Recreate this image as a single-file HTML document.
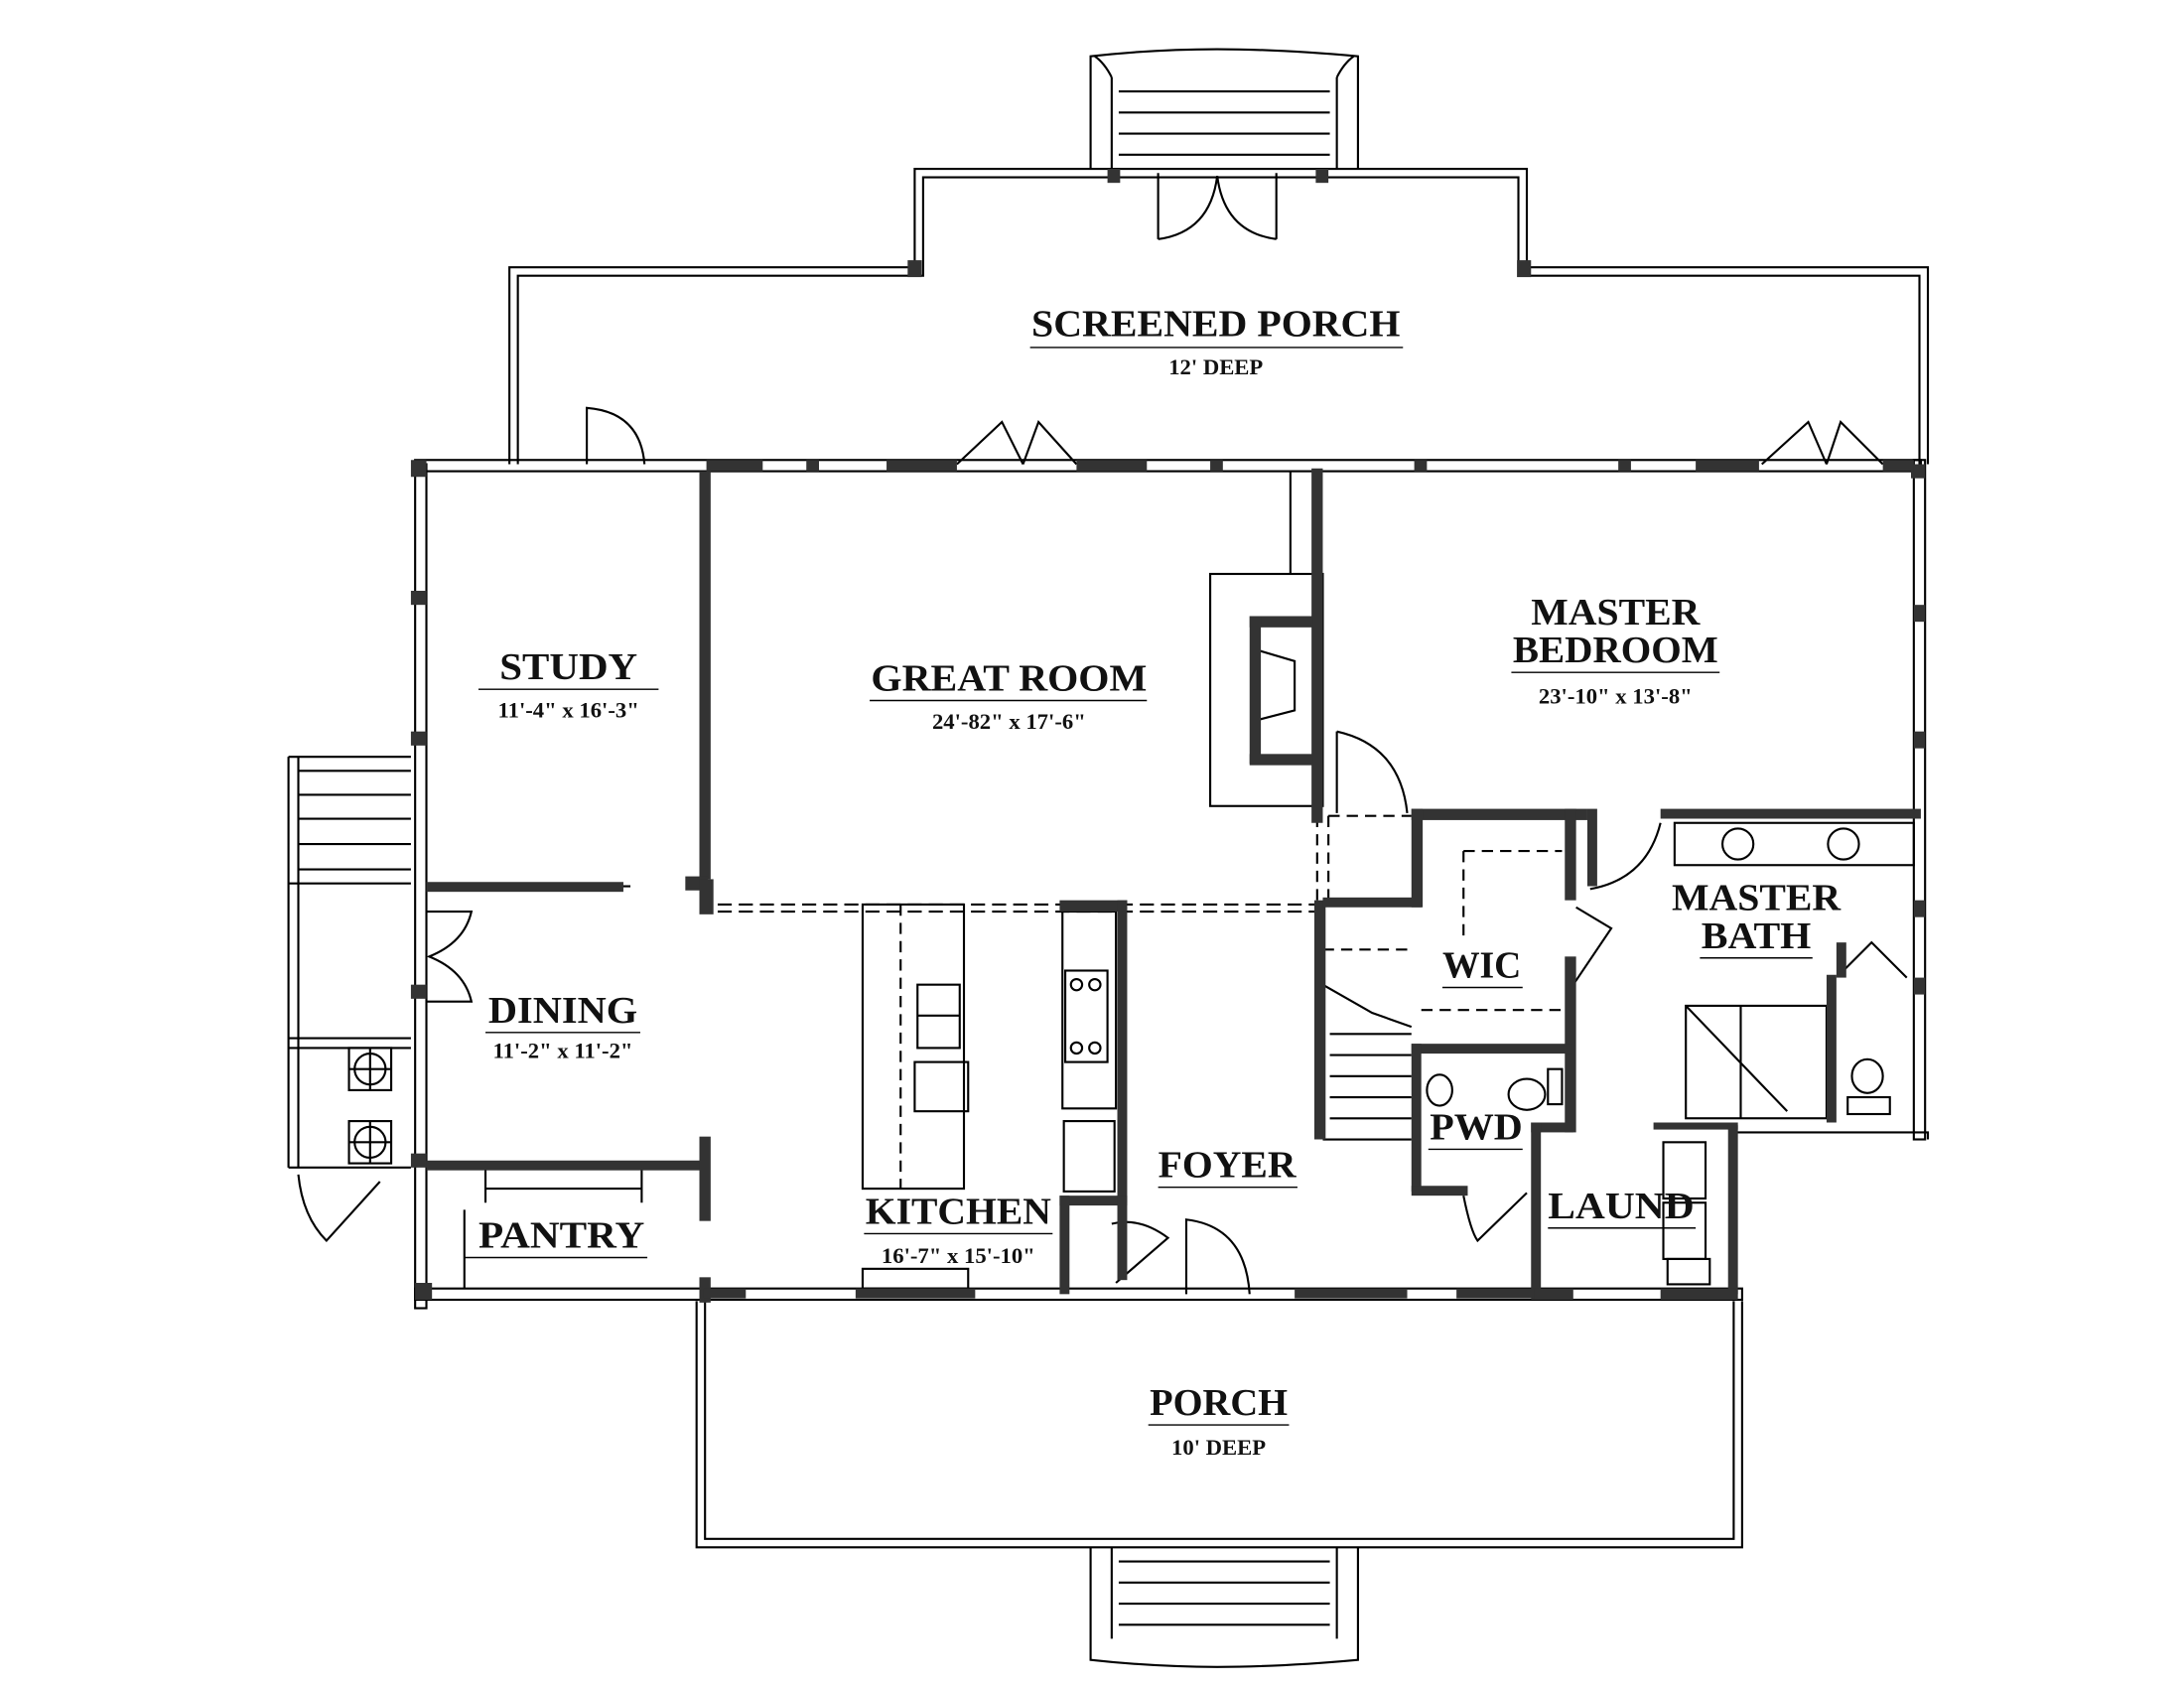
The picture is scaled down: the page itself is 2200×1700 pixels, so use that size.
<!DOCTYPE html>
<html><head><meta charset="utf-8"><style>
html,body{margin:0;padding:0;background:#fff;}
svg{display:block;}
text{font-family:"Liberation Serif",serif;fill:#111;}
.t{font-size:27px;font-weight:bold;}
.s{font-size:16px;font-weight:bold;}
</style></head><body>
<svg width="2200" height="1700" viewBox="0 0 1552 1200" preserveAspectRatio="none" xmlns="http://www.w3.org/2000/svg">
<g fill="none" stroke="#000" stroke-width="1.5">
<path d="M362 330 V190 H650 V120 H1085 V190 H1370 V330"/>
<path d="M368 330 V196 H656 V126 H1079 V196 H1364 V330"/>
<path d="M775 120 L775 40 Q820 35 865 35 Q910 35 965 40 L965 120"/>
<path d="M790 120 V55 M950 120 V55"/>
<path d="M790 55 Q785 45 778 40 M950 55 Q955 45 962 40"/>
<path d="M795 65 H945 M795 80 H945 M795 95 H945 M795 110 H945"/>
<path d="M823 123 V170 M907 123 V170 M823 170 Q860 165 865 125 M907 170 Q870 165 865 125"/>
<path d="M495 925 V1100 H1238 V925"/>
<path d="M501 925 V1094 H1232 V925"/>
<path d="M775 1100 V1180 Q820 1185 865 1185 Q910 1185 965 1180 V1100"/>
<path d="M790 1100 V1165 M950 1100 V1165"/>
<path d="M795 1110 H945 M795 1125 H945 M795 1140 H945 M795 1155 H945"/>
<path d="M205 538 H292 M205 538 V830 M212 538 V830 M212 548 H292 M212 565 H292 M212 582 H292 M212 600 H292 M212 618 H292"/>
<path d="M205 628 H292 M205 738 H292 M205 745 H292 M205 830 H292"/>
<path d="M212 835 Q215 865 232 882 L270 840"/>
<rect x="248" y="745" width="30" height="30"/><rect x="248" y="797" width="30" height="30"/>
<circle cx="263" cy="760" r="11"/><circle cx="263" cy="812" r="11"/>
<path d="M248 760 H278 M263 745 V775 M248 812 H278 M263 797 V827"/>
<rect x="295" y="330" width="8" height="600"/>
<rect x="295" y="916" width="943" height="8"/>
<rect x="295" y="327" width="1070" height="8"/>
<rect x="1360" y="327" width="8" height="483"/>
<path d="M1233 805 H1370 V810 M1232 810 V920"/>
<path d="M417 330 V290 Q455 293 458 330"/>
<path d="M680 330 L712 300 L727 330 M765 330 L738 300 L727 330"/>
<path d="M1252 330 L1285 300 L1298 330 M1338 330 L1308 300 L1298 330"/>
<path d="M303 648 H335 Q330 670 305 680 Q330 690 335 712 H303"/>
<path d="M510 643 H940 M510 648 H940" stroke-dasharray="10,5"/>
<path d="M936 580 V640 M944 580 V640" stroke-dasharray="8,5"/>
<path d="M944 580 H1003" stroke-dasharray="8,5"/>
<rect x="860" y="408" width="80" height="165"/>
<path d="M917 335 V408"/>
<path d="M893 462 L920 470 V505 L893 512"/>
<path d="M950 520 Q995 530 1000 578 M950 520 V578"/>
<rect x="613" y="643" width="72" height="202"/>
<rect x="652" y="700" width="30" height="45"/><path d="M652 722 H682"/>
<rect x="650" y="755" width="38" height="35"/>
<path d="M640 643 V845" stroke-dasharray="8,5"/>
<rect x="755" y="648" width="38" height="140"/>
<rect x="757" y="690" width="30" height="65"/>
<circle cx="765" cy="700" r="4"/><circle cx="778" cy="700" r="4"/><circle cx="765" cy="745" r="4"/><circle cx="778" cy="745" r="4"/>
<rect x="756" y="797" width="36" height="50"/>
<rect x="613" y="902" width="75" height="14"/>
<path d="M793 912 L830 880 Q810 865 790 870"/>
<path d="M843 920 V867 Q885 872 888 920"/>
<path d="M940 700 L975 720 L1003 730 M945 735 H1003 M945 750 H1003 M945 765 H1003 M945 780 H1003 M945 795 H1003 M940 810 H1003"/>
<path d="M940 675 H1005" stroke-dasharray="8,5"/>
<path d="M1010 718 H1112" stroke-dasharray="8,5"/>
<path d="M1040 605 H1110 M1040 605 V670" stroke-dasharray="8,5"/>
<path d="M1120 645 L1145 660 L1118 700"/>
<path d="M1130 632 Q1170 625 1180 585"/>
<rect x="1190" y="585" width="170" height="30"/>
<circle cx="1235" cy="600" r="11"/><circle cx="1310" cy="600" r="11"/>
<rect x="1198" y="715" width="100" height="80"/>
<path d="M1198 715 L1270 790 M1237 715 V795"/>
<ellipse cx="1327" cy="765" rx="11" ry="12"/><rect x="1313" y="780" width="30" height="12"/>
<path d="M1310 690 L1330 670 L1355 695"/>
<ellipse cx="1023" cy="775" rx="9" ry="11"/><ellipse cx="1085" cy="778" rx="13" ry="11"/>
<rect x="1100" y="760" width="10" height="25"/>
<path d="M1040 850 Q1045 875 1050 882 L1085 848"/>
<rect x="1182" y="812" width="30" height="40"/><rect x="1182" y="855" width="30" height="40"/>
<rect x="1185" y="895" width="30" height="18"/>
<path d="M345 830 V855 M456 830 V855 M345 845 H456"/>
<path d="M330 860 V916"/>
<path d="M303 630 H448"/>
</g>
<g fill="#333">
<rect x="497" y="335" width="8" height="290"/>
<rect x="487" y="623" width="16" height="10"/>
<rect x="497" y="625" width="10" height="25"/>
<rect x="303" y="627" width="140" height="7"/>
<rect x="303" y="825" width="200" height="7"/>
<rect x="497" y="808" width="8" height="60"/>
<rect x="497" y="908" width="8" height="18"/>
<rect x="292" y="327" width="11" height="12"/>
<rect x="295" y="912" width="12" height="12"/>
<rect x="932" y="333" width="8" height="252"/>
<rect x="888" y="438" width="45" height="8"/>
<rect x="888" y="438" width="8" height="105"/>
<rect x="888" y="536" width="45" height="8"/>
<rect x="753" y="640" width="48" height="8"/>
<rect x="794" y="640" width="7" height="215"/>
<rect x="753" y="850" width="48" height="7"/>
<rect x="753" y="850" width="7" height="70"/>
<rect x="794" y="850" width="7" height="60"/>
<rect x="934" y="640" width="8" height="170"/>
<rect x="1003" y="575" width="125" height="8"/>
<rect x="1003" y="575" width="8" height="70"/>
<rect x="940" y="638" width="70" height="7"/>
<rect x="1112" y="575" width="8" height="65"/>
<rect x="1112" y="680" width="8" height="125"/>
<rect x="1003" y="742" width="115" height="7"/>
<rect x="1003" y="742" width="7" height="105"/>
<rect x="1003" y="843" width="40" height="7"/>
<rect x="1088" y="798" width="30" height="7"/>
<rect x="1088" y="798" width="7" height="122"/>
<rect x="1128" y="575" width="7" height="55"/>
<rect x="1180" y="575" width="185" height="7"/>
<rect x="1298" y="693" width="7" height="105"/>
<rect x="1305" y="670" width="7" height="25"/>
<rect x="1175" y="798" width="60" height="5"/>
<rect x="1228" y="800" width="7" height="120"/>
<rect x="1180" y="916" width="55" height="8"/>
<rect x="1088" y="916" width="30" height="8"/>
<rect x="608" y="916" width="85" height="7"/>
<rect x="920" y="916" width="80" height="7"/>
<rect x="1035" y="916" width="55" height="7"/>
<rect x="500" y="916" width="30" height="7"/>
<rect x="1358" y="330" width="10" height="10"/>
<rect x="502" y="327" width="40" height="8"/>
<rect x="630" y="327" width="50" height="8"/>
<rect x="765" y="327" width="50" height="8"/>
<rect x="1205" y="327" width="45" height="8"/>
<rect x="1338" y="327" width="22" height="8"/>
<rect x="573" y="327" width="9" height="8"/><rect x="860" y="327" width="9" height="8"/><rect x="1005" y="327" width="9" height="8"/><rect x="1150" y="327" width="9" height="8"/>
<rect x="645" y="185" width="10" height="12"/><rect x="1078" y="185" width="10" height="12"/><rect x="787" y="120" width="9" height="10"/><rect x="935" y="120" width="9" height="10"/>
<rect x="1360" y="430" width="8" height="12"/><rect x="1360" y="520" width="8" height="12"/><rect x="1360" y="640" width="8" height="12"/><rect x="1360" y="695" width="8" height="12"/>
<rect x="292" y="420" width="11" height="10"/><rect x="292" y="520" width="11" height="10"/><rect x="292" y="700" width="11" height="10"/><rect x="292" y="820" width="11" height="10"/>
</g>
<g text-anchor="middle">
<text class="t" x="864" y="239" textLength="262" lengthAdjust="spacingAndGlyphs">SCREENED PORCH</text><path d="M732 247 H997" stroke="#000" stroke-width="1"/>
<text class="s" x="864" y="266">12' DEEP</text>
<text class="t" x="404" y="483" textLength="98" lengthAdjust="spacingAndGlyphs">STUDY</text><path d="M340 490 H468" stroke="#000"/>
<text class="s" x="404" y="510">11'-4" x 16'-3"</text>
<text class="t" x="717" y="491" textLength="196" lengthAdjust="spacingAndGlyphs">GREAT ROOM</text><path d="M618 498 H815" stroke="#000"/>
<text class="s" x="717" y="518">24'-82" x 17'-6"</text>
<text class="t" x="1148" y="444" textLength="120" lengthAdjust="spacingAndGlyphs">MASTER</text>
<text class="t" x="1148" y="471" textLength="146" lengthAdjust="spacingAndGlyphs">BEDROOM</text><path d="M1074 478 H1222" stroke="#000"/>
<text class="s" x="1148" y="500">23'-10" x 13'-8"</text>
<text class="t" x="400" y="727" textLength="106" lengthAdjust="spacingAndGlyphs">DINING</text><path d="M345 734 H455" stroke="#000"/>
<text class="s" x="400" y="752">11'-2" x 11'-2"</text>
<text class="t" x="1248" y="647" textLength="120" lengthAdjust="spacingAndGlyphs">MASTER</text>
<text class="t" x="1248" y="674" textLength="78" lengthAdjust="spacingAndGlyphs">BATH</text><path d="M1208 681 H1288" stroke="#000"/>
<text class="t" x="1053" y="695" textLength="56" lengthAdjust="spacingAndGlyphs">WIC</text><path d="M1025 702 H1082" stroke="#000"/>
<text class="t" x="1049" y="810" textLength="66" lengthAdjust="spacingAndGlyphs">PWD</text><path d="M1015 817 H1082" stroke="#000"/>
<text class="t" x="872" y="837" textLength="98" lengthAdjust="spacingAndGlyphs">FOYER</text><path d="M823 844 H922" stroke="#000"/>
<text class="t" x="1152" y="866" textLength="104" lengthAdjust="spacingAndGlyphs">LAUND</text><path d="M1100 873 H1205" stroke="#000"/>
<text class="t" x="681" y="870" textLength="132" lengthAdjust="spacingAndGlyphs">KITCHEN</text><path d="M614 877 H748" stroke="#000"/>
<text class="s" x="681" y="898">16'-7" x 15'-10"</text>
<text class="t" x="399" y="887" textLength="118" lengthAdjust="spacingAndGlyphs">PANTRY</text><path d="M330 894 H460" stroke="#000"/>
<text class="t" x="866" y="1006" textLength="98" lengthAdjust="spacingAndGlyphs">PORCH</text><path d="M816 1013 H916" stroke="#000"/>
<text class="s" x="866" y="1034">10' DEEP</text>
</g>
</svg>
</body></html>
